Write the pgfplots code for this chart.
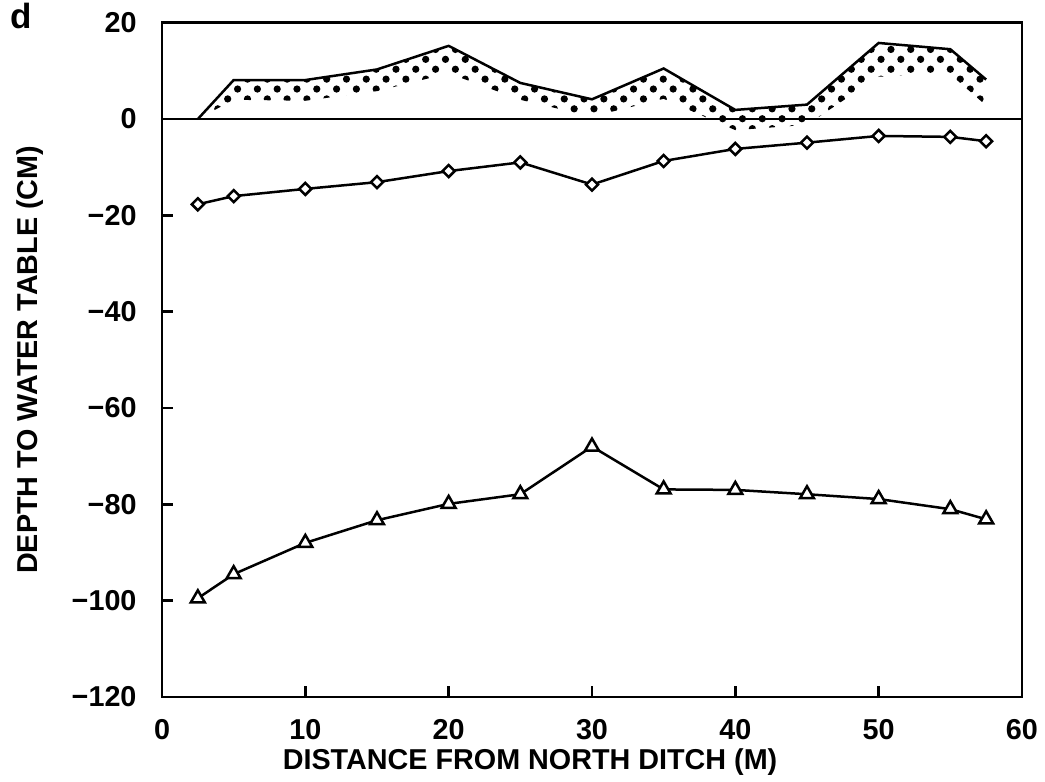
\documentclass[border=0pt]{standalone}
\usepackage{fontspec}
\setmainfont{Liberation Sans}
\usepackage{pgfplots}
\pgfplotsset{compat=1.18}
\usepgfplotslibrary{fillbetween}
\usetikzlibrary{patterns.meta}

\newcommand{\lblfont}{\fontsize{11.5}{13}\selectfont\bfseries}

\begin{document}
\begin{tikzpicture}
\begin{axis}[
  at={(0,0)}, anchor=south west,
  scale only axis,
  width=344pt, height=269.7pt,
  xmin=0, xmax=60, ymin=-120, ymax=20,
  clip=false,
  axis line style={line width=1pt},
  tick pos=left, tick align=inside,
  major tick length=4.5pt,
  every tick/.style={black, line width=1pt},
  xtick={0,10,...,60},
  xticklabels={0,10,20,30,40,50,60},
  ytick={-120,-100,...,20},
  yticklabels={−120,−100,−80,−60,−40,−20,0,20},
  tick label style={font=\lblfont},
  xticklabel style={anchor=center, inner sep=0pt, yshift=-13pt},
  yticklabel style={anchor=east, inner sep=0pt, xshift=-10pt},
  xlabel={DISTANCE FROM NORTH DITCH (M)},
  ylabel={DEPTH TO WATER TABLE (CM)},
  label style={font=\lblfont},
  xlabel style={at={(axis description cs:0.428,-0.0964)}, anchor=center, inner sep=0pt},
  ylabel style={at={(axis description cs:-0.1535,0.5)}, anchor=center, inner sep=0pt},
]

% ground surface relative to reference level
\addplot[name path=surf, line width=1pt] coordinates {
  (2.5,0) (5,8.1) (10,8.1) (15,10.3) (20,15.2) (25,7.5) (30,4.1)
  (35,10.5) (40,1.9) (45,3.0) (50,15.8) (55,14.5) (57.5,8.2)
};
% lower edge of the stippled band
\addplot[name path=band, draw=none] coordinates {
  (2.5,0) (5,4.0) (10,3.8) (15,5.8) (20,9.5) (25,4.0) (30,0.5)
  (35,4.2) (40,-2.3) (45,-1.2) (50,8.8) (55,9.3) (57.5,2.8)
};
\addplot[pattern={Dots[radius=1.45pt, distance=5.6pt, angle=45]}, pattern color=black]
  fill between[of=surf and band];

% reference level
\addplot[line width=0.8pt] coordinates {(0,0) (60,0)};

% water table, wet period
\addplot[line width=1pt, mark=square*, mark size=1.7pt,
  mark options={rotate=45, fill=white}] coordinates {
  (2.5,-17.7) (5,-16.0) (10,-14.5) (15,-13.1) (20,-10.8) (25,-9.0) (30,-13.6)
  (35,-8.7) (40,-6.2) (45,-4.9) (50,-3.5) (55,-3.7) (57.5,-4.6)
};

% water table, dry period
\addplot[line width=1pt, mark=triangle*, mark size=3.2pt,
  mark options={fill=white}] coordinates {
  (2.5,-99.5) (5,-94.5) (10,-88.0) (15,-83.3) (20,-79.9) (25,-77.9) (30,-68.0)
  (35,-76.9) (40,-77.0) (45,-77.9) (50,-78.9) (55,-81.0) (57.5,-83.1)
};
\end{axis}

\node[anchor=base west, inner sep=0pt, font=\fontsize{14}{16}\selectfont\bfseries]
  at (-60.8pt,267.2pt) {d};

\pgfresetboundingbox
\path[use as bounding box] (-64.8pt,-34pt) rectangle (353.2pt,278.8pt);
\end{tikzpicture}
\end{document}
